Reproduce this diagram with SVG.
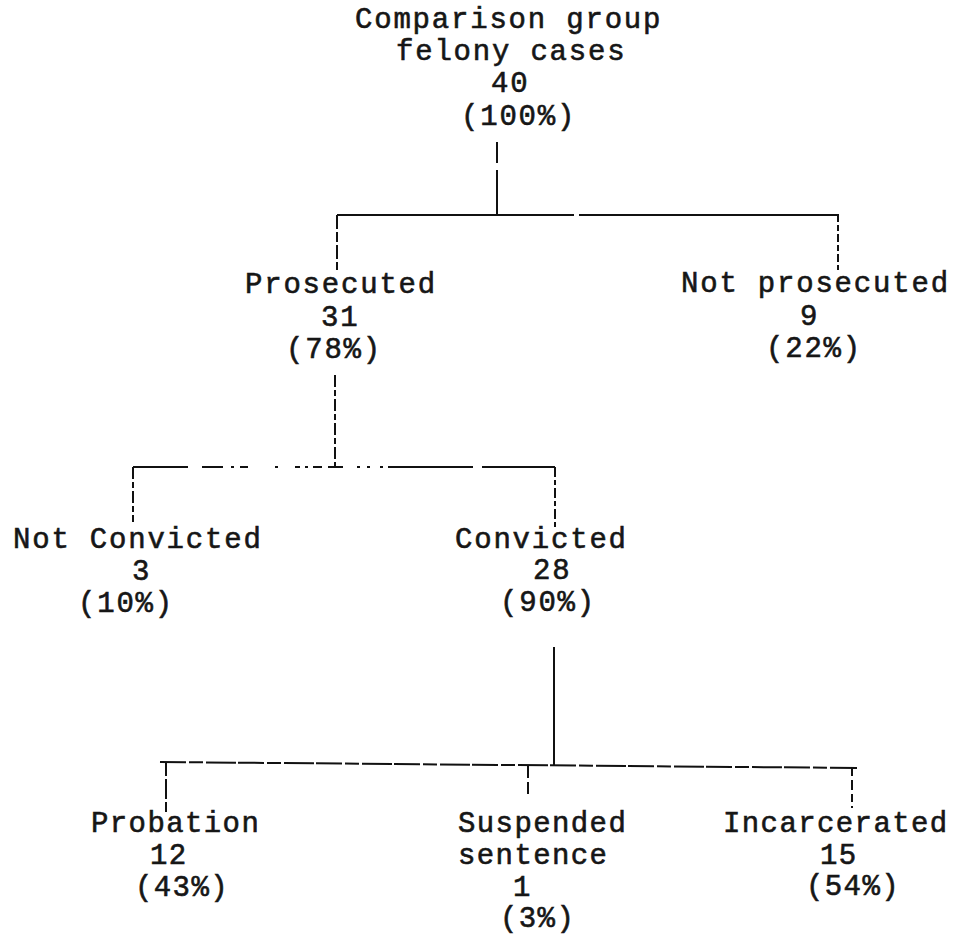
<svg xmlns="http://www.w3.org/2000/svg" width="963" height="937" viewBox="0 0 963 937">
<style>
  .t { font-family: "Liberation Mono", "DejaVu Sans Mono", monospace; font-size: 29px; letter-spacing: 1.8px; fill: #161616; stroke: #161616; stroke-width: 0.6px; }
  .b { letter-spacing: 1.4px; }
  .c { fill: none; stroke: #111; stroke-width: 2; }
</style>
<rect x="0" y="0" width="963" height="937" fill="#ffffff"/>
<g id="connectors">
  <path class="c" d="M497 142 V163 M497 170 V214"/>
  <path class="c" d="M337 215 H574 M579 215 H839"/>
  <path class="c" d="M337 215 V270" stroke-dasharray="14 3 10 3"/>
  <path class="c" d="M838 214 V270" stroke-dasharray="8 3 6 3"/>
  <path class="c" d="M335 375 V467" stroke-dasharray="12 3 6 3"/>
  <path class="c" d="M133 467 H188 M202 467 H223 M231 467 H234 M240 467 H248 M275 467 H278 M295 467 H300 M305 467 H308 M313 467 H322 M328 467 H343 M357 467 H360 M367 467 H370 M380 467 H383 M388 467 H473 M482 467 H555"/>
  <path class="c" d="M133 467 V522" stroke-dasharray="12 3 6 3"/>
  <path class="c" d="M555 467 V530" stroke-dasharray="10 3 5 3"/>
  <path class="c" d="M554 647 V765"/>
  <path class="c" d="M160 762 L857 768" stroke-dasharray="26 3 14 3 30 2"/>
  <path class="c" d="M166 762 V812" stroke-dasharray="14 3 20 3"/>
  <path class="c" d="M528 766 V796" stroke-dasharray="12 4"/>
  <path class="c" d="M852 768 V808" stroke-dasharray="8 4 10 4"/>
</g>
<g id="root">
  <text class="t" x="355" y="28">Comparison group</text>
  <text class="t" x="396" y="60">felony cases</text>
  <text class="t" x="491" y="92">40</text>
  <text class="t" x="461" y="125">(100%)</text>
</g>
<g id="prosecuted">
  <text class="t" x="245" y="293">Prosecuted</text>
  <text class="t" x="321" y="326">31</text>
  <text class="t" x="286" y="358">(78%)</text>
</g>
<g id="not-prosecuted">
  <text class="t" x="681" y="292">Not prosecuted</text>
  <text class="t" x="800" y="325">9</text>
  <text class="t" x="766" y="357">(22%)</text>
</g>
<g id="not-convicted">
  <text class="t" x="13" y="548">Not Convicted</text>
  <text class="t" x="132" y="580">3</text>
  <text class="t" x="78" y="612">(10%)</text>
</g>
<g id="convicted">
  <text class="t" x="455" y="548">Convicted</text>
  <text class="t" x="533" y="579">28</text>
  <text class="t" x="500" y="611">(90%)</text>
</g>
<g id="probation">
  <text class="t b" x="91" y="832">Probation</text>
  <text class="t b" x="150" y="864">12</text>
  <text class="t b" x="135" y="896">(43%)</text>
</g>
<g id="suspended">
  <text class="t b" x="458" y="832">Suspended</text>
  <text class="t b" x="458" y="864">sentence</text>
  <text class="t b" x="513" y="896">1</text>
  <text class="t b" x="500" y="927">(3%)</text>
</g>
<g id="incarcerated">
  <text class="t b" x="723" y="832">Incarcerated</text>
  <text class="t b" x="820" y="864">15</text>
  <text class="t b" x="806" y="895">(54%)</text>
</g>
</svg>
